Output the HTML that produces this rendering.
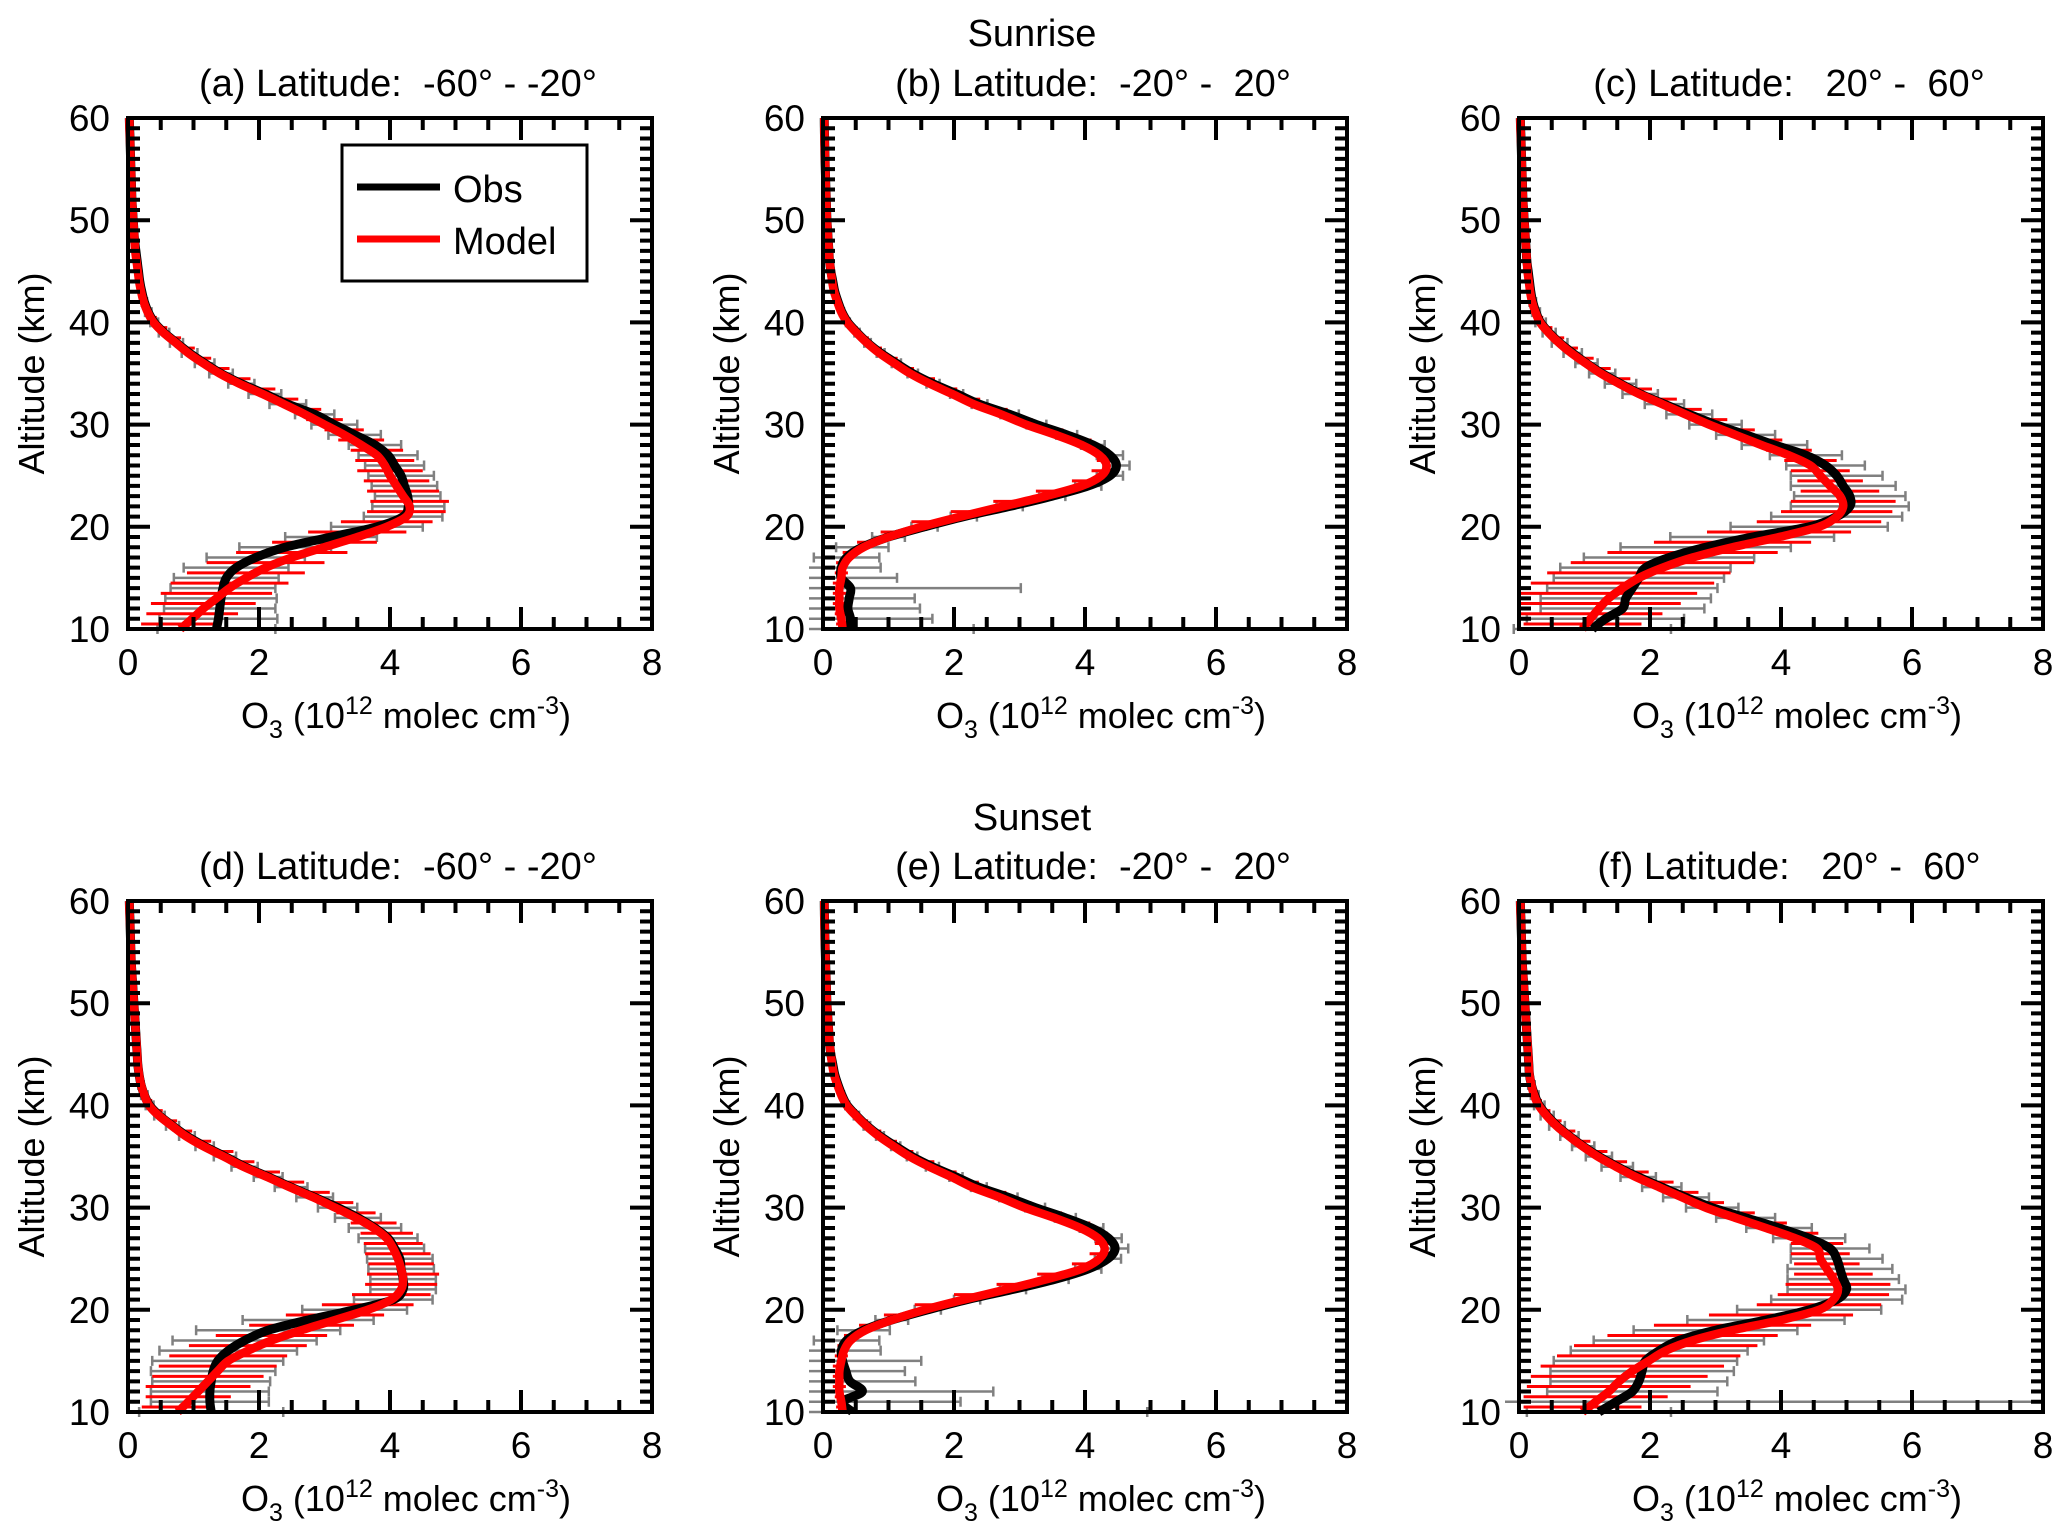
<!DOCTYPE html>
<html><head><meta charset="utf-8"><title>O3 profiles</title>
<style>
html,body{margin:0;padding:0;background:#fff;}
svg{display:block;}
text{font-family:"Liberation Sans",Arial,sans-serif;fill:#000;white-space:pre;}
</style></head>
<body>
<svg id="fig" width="2067" height="1538" viewBox="0 0 2067 1538" xmlns="http://www.w3.org/2000/svg">
<text x="1032" y="46" font-size="38" text-anchor="middle">Sunrise</text>
<text x="1032" y="830" font-size="38" text-anchor="middle">Sunset</text>
</svg>
<script>
// altitude grid 10..60 km (1 km step)
const altitudes = [10,11,12,13,14,15,16,17,18,19,20,21,22,23,24,25,26,27,28,29,30,31,32,33,34,35,36,37,38,39,40,41,42,43,44,45,46,47,48,49,50,51,52,53,54,55,56,57,58,59,60];
const xTicks = [0,2,4,6,8];
const yTicks = [10,20,30,40,50,60];
const panelTitles = ["(a) Latitude:  -60\u00B0 - -20\u00B0","(b) Latitude:  -20\u00B0 -  20\u00B0","(c) Latitude:   20\u00B0 -  60\u00B0","(d) Latitude:  -60\u00B0 - -20\u00B0","(e) Latitude:  -20\u00B0 -  20\u00B0","(f) Latitude:   20\u00B0 -  60\u00B0"];

// panel (a)
const obsA = [1.35,1.38,1.4,1.42,1.45,1.5,1.65,1.95,2.4,3.1,3.8, 4.2,4.28,4.27,4.22,4.17,4.07,3.97,3.77,3.46,3.15, 2.85,2.44,2.09,1.73,1.42,1.17,0.94,0.74,0.55,0.4, 0.31,0.25,0.21,0.18,0.16,0.14,0.12,0.1,0.09,0.08, 0.07,0.06,0.055,0.05,0.045,0.04,0.035,0.03,0.025,0.02];
const modA = [0.8,0.98,1.15,1.35,1.55,1.8,2.1,2.5,3.0,3.5,3.95, 4.25,4.3,4.2,4.1,4.0,3.92,3.8,3.56,3.3,3.0, 2.7,2.38,2.05,1.7,1.4,1.15,0.92,0.73,0.54,0.39, 0.3,0.24,0.2,0.17,0.15,0.13,0.11,0.1,0.09,0.08, 0.07,0.06,0.055,0.05,0.045,0.04,0.035,0.03,0.025,0.02];
const obsErrA = [0.9,0.9,0.85,0.85,0.8,0.8,0.8,0.75,0.7,0.7,0.7, 0.6,0.55,0.5,0.5,0.5,0.45,0.45,0.4,0.4,0.35, 0.3,0.28,0.25,0.2,0.18,0.15,0.12,0.1,0.08,0.06, 0.05,0.04,0.03,0.025,0.02,0.015,0.01,0.01,0.01,0.01, 0.01,0.01,0.01,0.01,0.01,0.01,0.01,0.01,0.01,0.01];
const modErrA = [0.6,0.7,0.8,0.85,0.9,0.9,0.9,0.85,0.8,0.75,0.7, 0.6,0.6,0.55,0.5,0.5,0.45,0.4,0.35,0.3,0.28, 0.25,0.22,0.2,0.17,0.15,0.12,0.1,0.08,0.06,0.05, 0.04,0.03,0.02,0.02,0.01,0.01,0.01,0.01,0.01,0.01, 0.01,0.01,0.01,0.01,0.01,0.01,0.01,0.01,0.01,0.01];
// panel (b)
const obsB = [0.4,0.42,0.38,0.4,0.42,0.28,0.28,0.36,0.6,1.0,1.55, 2.15,2.85,3.5,4.05,4.38,4.48,4.38,4.12,3.72,3.26, 2.85,2.39,2.04,1.68,1.37,1.12,0.88,0.68,0.52,0.38, 0.29,0.23,0.18,0.15,0.12,0.1,0.09,0.08,0.07,0.06, 0.055,0.05,0.045,0.04,0.035,0.03,0.027,0.024,0.021,0.02];
const modB = [0.3,0.28,0.25,0.25,0.25,0.28,0.3,0.4,0.62,1.0,1.5, 2.1,2.75,3.4,3.95,4.25,4.33,4.22,3.95,3.55,3.1, 2.72,2.3,1.97,1.63,1.33,1.09,0.86,0.67,0.51,0.37, 0.28,0.22,0.17,0.14,0.12,0.1,0.09,0.08,0.07,0.06, 0.055,0.05,0.045,0.04,0.035,0.03,0.027,0.024,0.021,0.02];
const obsErrB = [1.9,1.25,1.1,1.0,2.6,0.85,0.6,0.5,0.4,0.25,0.2, 0.2,0.2,0.2,0.2,0.2,0.2,0.2,0.18,0.16,0.15, 0.14,0.12,0.1,0.1,0.08,0.07,0.06,0.05,0.04,0.03, 0.03,0.02,0.02,0.01,0.01,0.01,0.01,0.01,0.01,0.01, 0.01,0.01,0.01,0.01,0.01,0.01,0.01,0.01,0.01,0.01];
const modErrB = [0.1,0.1,0.1,0.1,0.1,0.1,0.1,0.1,0.1,0.12,0.15, 0.15,0.15,0.15,0.15,0.15,0.15,0.15,0.15,0.12,0.1, 0.1,0.1,0.08,0.08,0.06,0.05,0.04,0.03,0.02,0.02, 0.01,0.01,0.01,0.01,0.01,0.01,0.01,0.01,0.01,0.01, 0.01,0.01,0.01,0.01,0.01,0.01,0.01,0.01,0.01,0.01];
// panel (c)
const obsC = [1.12,1.32,1.58,1.63,1.73,1.83,1.93,2.29,2.85,3.56,4.43, 4.85,5.05,5.05,4.95,4.85,4.68,4.38,3.9,3.46,3.0, 2.6,2.22,1.85,1.55,1.27,1.03,0.82,0.62,0.46,0.33, 0.26,0.21,0.18,0.16,0.14,0.12,0.11,0.1,0.09,0.08, 0.07,0.06,0.055,0.05,0.045,0.04,0.035,0.03,0.025,0.02];
const modC = [0.97,1.09,1.22,1.37,1.58,1.83,2.19,2.65,3.26,3.97,4.58, 4.85,4.95,4.9,4.75,4.6,4.45,4.12,3.7,3.3,2.9, 2.54,2.19,1.83,1.53,1.25,1.02,0.8,0.61,0.45,0.32, 0.25,0.2,0.17,0.15,0.13,0.12,0.11,0.1,0.09,0.08, 0.07,0.06,0.055,0.05,0.045,0.04,0.035,0.03,0.025,0.02];
const obsErrC = [1.2,1.2,1.25,1.3,1.3,1.3,1.3,1.3,1.3,1.25,1.2, 1.0,0.9,0.85,0.8,0.7,0.6,0.55,0.5,0.45,0.4, 0.35,0.3,0.27,0.24,0.2,0.17,0.14,0.12,0.1,0.08, 0.06,0.05,0.04,0.03,0.02,0.01,0.01,0.01,0.01,0.01, 0.01,0.01,0.01,0.01,0.01,0.01,0.01,0.01,0.01,0.01];
const modErrC = [0.9,1.1,1.25,1.35,1.4,1.4,1.4,1.3,1.2,1.1,0.95, 0.85,0.8,0.6,0.5,0.45,0.4,0.35,0.32,0.3,0.28, 0.25,0.22,0.2,0.17,0.15,0.12,0.1,0.08,0.06,0.05, 0.04,0.03,0.02,0.02,0.01,0.01,0.01,0.01,0.01,0.01, 0.01,0.01,0.01,0.01,0.01,0.01,0.01,0.01,0.01,0.01];
// panel (d)
const obsD = [1.27,1.25,1.25,1.27,1.3,1.37,1.53,1.78,2.14,2.75,3.46, 4.05,4.2,4.2,4.17,4.15,4.07,3.97,3.77,3.51,3.2, 2.85,2.49,2.14,1.78,1.48,1.17,0.9,0.68,0.48,0.33, 0.25,0.2,0.17,0.15,0.14,0.13,0.12,0.11,0.1,0.09, 0.08,0.07,0.06,0.05,0.045,0.04,0.035,0.03,0.025,0.02];
const modD = [0.76,0.92,1.07,1.22,1.37,1.53,1.83,2.19,2.65,3.16,3.66, 4.02,4.17,4.2,4.17,4.12,4.05,3.95,3.75,3.48,3.16, 2.83,2.47,2.12,1.76,1.46,1.15,0.88,0.67,0.47,0.32, 0.25,0.2,0.17,0.15,0.14,0.13,0.12,0.11,0.1,0.09, 0.08,0.07,0.06,0.05,0.045,0.04,0.035,0.03,0.025,0.02];
const obsErrD = [1.1,0.9,0.9,0.9,0.95,1.0,1.05,1.1,1.1,1.0,0.8, 0.6,0.5,0.5,0.5,0.5,0.45,0.45,0.4,0.35,0.3, 0.28,0.25,0.22,0.2,0.17,0.14,0.12,0.1,0.08,0.06, 0.05,0.04,0.03,0.025,0.02,0.015,0.01,0.01,0.01,0.01, 0.01,0.01,0.01,0.01,0.01,0.01,0.01,0.01,0.01,0.01];
const modErrD = [0.55,0.65,0.8,0.85,0.9,0.9,0.9,0.85,0.8,0.75,0.7, 0.6,0.55,0.55,0.5,0.5,0.45,0.4,0.35,0.3,0.28, 0.25,0.22,0.2,0.17,0.15,0.12,0.1,0.08,0.06,0.05, 0.04,0.03,0.02,0.02,0.01,0.01,0.01,0.01,0.01,0.01, 0.01,0.01,0.01,0.01,0.01,0.01,0.01,0.01,0.01,0.01];
// panel (e)
const obsE = [0.45,0.3,0.6,0.41,0.35,0.3,0.28,0.36,0.62,1.05,1.6, 2.2,2.9,3.55,4.05,4.35,4.46,4.36,4.1,3.7,3.24, 2.83,2.38,2.03,1.67,1.36,1.11,0.87,0.67,0.51,0.37, 0.29,0.23,0.18,0.15,0.12,0.1,0.09,0.08,0.07,0.06, 0.055,0.05,0.045,0.04,0.035,0.03,0.027,0.024,0.021,0.02];
const modE = [0.3,0.28,0.25,0.25,0.25,0.28,0.32,0.42,0.65,1.05,1.55, 2.15,2.8,3.42,3.95,4.22,4.3,4.2,3.93,3.53,3.08, 2.7,2.28,1.96,1.62,1.32,1.08,0.85,0.66,0.5,0.36, 0.28,0.22,0.17,0.14,0.12,0.1,0.09,0.08,0.07,0.06, 0.055,0.05,0.045,0.04,0.035,0.03,0.027,0.024,0.021,0.02];
const obsErrE = [4.5,1.8,2.0,1.0,0.9,1.2,0.6,0.5,0.4,0.25,0.2, 0.2,0.2,0.2,0.2,0.2,0.2,0.2,0.18,0.16,0.15, 0.14,0.12,0.1,0.1,0.08,0.07,0.06,0.05,0.04,0.03, 0.03,0.02,0.02,0.01,0.01,0.01,0.01,0.01,0.01,0.01, 0.01,0.01,0.01,0.01,0.01,0.01,0.01,0.01,0.01,0.01];
const modErrE = [0.1,0.1,0.1,0.1,0.1,0.1,0.1,0.1,0.1,0.12,0.15, 0.15,0.15,0.15,0.15,0.15,0.15,0.15,0.15,0.12,0.1, 0.1,0.1,0.08,0.08,0.06,0.05,0.04,0.03,0.02,0.02, 0.01,0.01,0.01,0.01,0.01,0.01,0.01,0.01,0.01,0.01, 0.01,0.01,0.01,0.01,0.01,0.01,0.01,0.01,0.01,0.01];
// panel (f)
const obsF = [1.22,1.48,1.73,1.83,1.88,1.93,2.14,2.44,3.0,3.77,4.43, 4.85,5.0,4.95,4.9,4.85,4.75,4.43,3.97,3.46,2.95, 2.55,2.18,1.82,1.5,1.22,0.98,0.77,0.58,0.43,0.31, 0.24,0.19,0.16,0.15,0.14,0.13,0.12,0.11,0.1,0.09, 0.08,0.07,0.06,0.05,0.045,0.04,0.035,0.03,0.025,0.02];
const modF = [0.97,1.17,1.37,1.53,1.73,1.98,2.24,2.65,3.26,4.0,4.58, 4.8,4.87,4.8,4.7,4.6,4.55,4.22,3.77,3.3,2.85, 2.49,2.14,1.78,1.48,1.2,0.97,0.76,0.57,0.42,0.3, 0.23,0.19,0.16,0.15,0.14,0.13,0.12,0.11,0.1,0.09, 0.08,0.07,0.06,0.05,0.045,0.04,0.035,0.03,0.025,0.02];
const obsErrF = [1.1,7.5,1.3,1.35,1.4,1.4,1.35,1.3,1.25,1.2,1.1, 1.0,0.9,0.85,0.8,0.7,0.6,0.55,0.5,0.45,0.4, 0.35,0.3,0.27,0.24,0.2,0.17,0.14,0.12,0.1,0.08, 0.06,0.05,0.04,0.03,0.02,0.01,0.01,0.01,0.01,0.01, 0.01,0.01,0.01,0.01,0.01,0.01,0.01,0.01,0.01,0.01];
const modErrF = [0.9,1.1,1.25,1.35,1.4,1.4,1.4,1.3,1.2,1.1,0.95, 0.85,0.8,0.6,0.5,0.45,0.4,0.35,0.32,0.3,0.28, 0.25,0.22,0.2,0.17,0.15,0.12,0.1,0.08,0.06,0.05, 0.04,0.03,0.02,0.02,0.01,0.01,0.01,0.01,0.01,0.01, 0.01,0.01,0.01,0.01,0.01,0.01,0.01,0.01,0.01,0.01];

const NS = "http://www.w3.org/2000/svg";
const svg = document.getElementById("fig");
function mk(tag, attrs, parent){
  const e = document.createElementNS(NS, tag);
  for (const k in attrs) e.setAttribute(k, attrs[k]);
  (parent||svg).appendChild(e);
  return e;
}
const panels = [
  {L:128, T:118, obs:obsA, mod:modA, oe:obsErrA, me:modErrA},
  {L:823, T:118, obs:obsB, mod:modB, oe:obsErrB, me:modErrB},
  {L:1519,T:118, obs:obsC, mod:modC, oe:obsErrC, me:modErrC},
  {L:128, T:901, obs:obsD, mod:modD, oe:obsErrD, me:modErrD},
  {L:823, T:901, obs:obsE, mod:modE, oe:obsErrE, me:modErrE},
  {L:1519,T:901, obs:obsF, mod:modF, oe:obsErrF, me:modErrF}
];
const W = 524, H = 511;
function smoothPath(pts){
  let d = "M" + pts[0][0].toFixed(1) + "," + pts[0][1].toFixed(1);
  for (let i=0;i<pts.length-1;i++){
    const p0 = pts[Math.max(0,i-1)], p1 = pts[i], p2 = pts[i+1], p3 = pts[Math.min(pts.length-1,i+2)];
    const c1x = p1[0]+(p2[0]-p0[0])/6, c1y = p1[1]+(p2[1]-p0[1])/6;
    const c2x = p2[0]-(p3[0]-p1[0])/6, c2y = p2[1]-(p3[1]-p1[1])/6;
    d += " C"+c1x.toFixed(1)+","+c1y.toFixed(1)+" "+c2x.toFixed(1)+","+c2y.toFixed(1)+" "+p2[0].toFixed(1)+","+p2[1].toFixed(1);
  }
  return d;
}
panels.forEach((p, idx) => {
  const xS = v => p.L + v / 8 * W;
  const yS = a => p.T + H - (a - 10) / 50 * H;
  const g = mk("g", {});
  
  
  const cid = "clip" + idx;
  const cp = mk("clipPath", {id:cid}, g);
  mk("rect", {x:p.L-14, y:p.T-8, width:W+14, height:H+14}, cp);
  const plot = mk("g", {"clip-path":"url(#"+cid+")"}, g);
  const obsBars = mk("g", {stroke:"#808080", "stroke-width":2.5, fill:"none"}, plot);
  
  
  altitudes.forEach((a, i) => {
    if (a > 47) return;
    const y = yS(a), x1 = xS(p.obs[i]-p.oe[i]), x2 = xS(p.obs[i]+p.oe[i]);
    const b = mk("path", {d:"M"+x1+","+y+"H"+x2+"M"+x1+","+(y-5)+"V"+(y+5)+"M"+x2+","+(y-5)+"V"+(y+5)}, obsBars);
    
    
  });
  const modBars = mk("g", {stroke:"#ff0000", "stroke-width":3, fill:"none"}, plot);
  
  
  altitudes.forEach((a, i) => {
    if (a > 47) return;
    const y = yS(a) - 5, x1 = xS(p.mod[i]-p.me[i]), x2 = xS(p.mod[i]+p.me[i]);
    const b = mk("path", {d:"M"+x1+","+y+"H"+x2}, modBars);
    
    
  });
  const obsLine = mk("path", {d:smoothPath(altitudes.map((a,i)=>[xS(p.obs[i]), yS(a)])), fill:"none", stroke:"#000", "stroke-width":9, "stroke-linejoin":"round"}, plot);
  
  
  const modLine = mk("path", {d:smoothPath(altitudes.map((a,i)=>[xS(p.mod[i]), yS(a)])), fill:"none", stroke:"#ff0000", "stroke-width":8.5, "stroke-linejoin":"round"}, plot);
  
  
  const fr = mk("rect", {x:p.L, y:p.T, width:W, height:H, fill:"none", stroke:"#000", "stroke-width":4}, g);
  
  
  let td = "";
  for (let v=0; v<=8.001; v+=0.5){
    const len = (Math.abs(v - Math.round(v/2)*2) < 0.01) ? 22 : 12;
    const x = xS(v);
    td += "M"+x+","+(p.T+H)+"v"+(-len)+"M"+x+","+p.T+"v"+len;
  }
  for (let a=10; a<=60; a+=1){
    const len = (a % 10 === 0) ? 22 : 12;
    const y = yS(a);
    td += "M"+p.L+","+y+"h"+len+"M"+(p.L+W)+","+y+"h"+(-len);
  }
  const ticks = mk("path", {d:td, stroke:"#000", "stroke-width":4, fill:"none"}, g);
  
  
  xTicks.forEach(v => {
    const t = mk("text", {x:xS(v), y:p.T+H+46, "font-size":37, "text-anchor":"middle"}, g);
    t.textContent = v;
    
    
  });
  yTicks.forEach(a => {
    const t = mk("text", {x:p.L-18, y:yS(a)+13, "font-size":37, "text-anchor":"end"}, g);
    t.textContent = a;
    
    
  });
  const tt = mk("text", {x:p.L+W/2+8, y:p.T-22, "font-size":38, "text-anchor":"middle"}, g);
  tt.textContent = panelTitles[idx];
  
  
  const yt = mk("text", {x:0, y:0, "font-size":36, "text-anchor":"middle", transform:"translate("+(p.L-84)+","+(p.T+H/2)+") rotate(-90)"}, g);
  yt.textContent = "Altitude (km)";
  
  
  const xt = mk("text", {x:p.L+W/2+16, y:p.T+H+99, "font-size":36, "text-anchor":"middle"}, g);
  
  
  xt.innerHTML = 'O<tspan dy="10" font-size="25">3</tspan><tspan dy="-10"> (10</tspan><tspan dy="-14" font-size="25">12</tspan><tspan dy="14"> molec cm</tspan><tspan dy="-14" font-size="25">-3</tspan><tspan dy="14">)</tspan>';
});
const lg = mk("g", {});


mk("rect", {x:342, y:145, width:245, height:136, fill:"#fff", stroke:"#000", "stroke-width":3}, lg);
const l1 = mk("line", {x1:357, x2:440, y1:187, y2:187, stroke:"#000", "stroke-width":7}, lg);


const l2 = mk("line", {x1:357, x2:440, y1:239, y2:239, stroke:"#ff0000", "stroke-width":7}, lg);


const t1 = mk("text", {x:453, y:202, "font-size":38}, lg);
t1.textContent = "Obs";


const t2 = mk("text", {x:453, y:254, "font-size":38}, lg);
t2.textContent = "Model";


</script>
</body></html>
